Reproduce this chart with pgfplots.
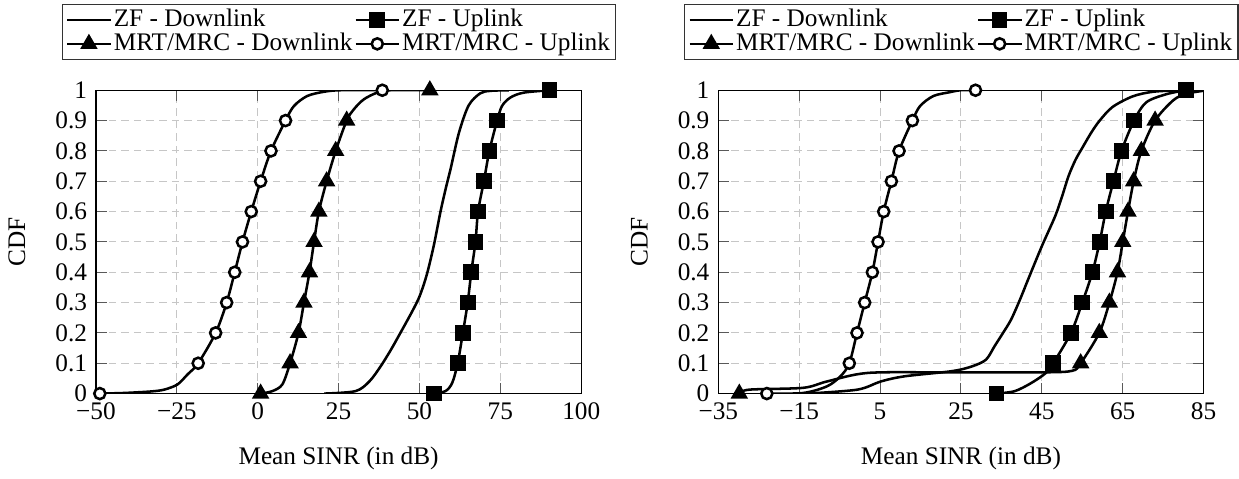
\documentclass[border=0pt]{standalone}
\usepackage{pgfplots}
\pgfplotsset{compat=1.18}
\usepackage{fontspec}
\setmainfont{Liberation Serif}
\begin{document}
\begin{tikzpicture}
\pgfplotsset{
  cdfax/.style={
    scale only axis, width=192pt, height=120pt,
    ymin=0, ymax=1, ytick={0,0.1,...,1.0},
    yticklabels={0,0.1,0.2,0.3,0.4,0.5,0.6,0.7,0.8,0.9,1},
    grid=major,
    major grid style={gray!45, dash pattern=on 3pt off 2pt, line width=0.4pt},
    tick style={gray!70!black, line width=0.4pt},
    axis line style={black, line width=0.5pt},
    tick label style={font=\fontsize{10}{12}\selectfont},
    label style={font=\fontsize{10}{12}\selectfont},
    xlabel={Mean SINR (in dB)}, ylabel={CDF},
    xlabel shift=4pt, ylabel shift=5pt,
    /pgf/number format/assume math mode=true,
    legend columns=2,
    legend cell align=left,
    legend style={at={(rel axis cs:-0.0706,1.285)}, anchor=north west,
      font=\fontsize{10}{11}\selectfont, draw=black!80, line width=0.5pt,
      inner xsep=1.5pt, inner ysep=1.5pt, row sep=0pt,
      nodes={inner ysep=0.5pt, inner xsep=0.8pt, text height=6.8pt, text depth=1.6pt},
      /tikz/every even column/.append style={column sep=0pt}},
    legend image code/.code={\draw[mark indices={2}] plot coordinates {(0cm,0cm) (0.3cm,0cm) (0.6cm,0cm)};},
    every axis plot/.append style={line width=1pt, black, smooth, tension=0.5},
  },
  sq/.style={mark=square*, mark size=2.6pt, mark options={solid, fill=black}},
  tr/.style={mark=triangle*, mark size=3pt, mark options={solid, fill=black}},
  ci/.style={mark=*, mark size=2.2pt, mark options={solid, fill=white, line width=1pt}},
}
\begin{axis}[cdfax, xmin=-50, xmax=100, xtick={-50,-25,0,25,50,75,100},
  xticklabels={−50,−25,0,25,50,75,100}]
\addplot[mark=none] coordinates {(20.5,0) (30.2,0.008) (34.5,0.04) (38.0,0.09) (41.2,0.145) (44.1,0.2) (47.7,0.27) (50.0,0.32) (52.2,0.39) (54.4,0.487) (56.5,0.6) (58.2,0.68) (59.6,0.74) (62.2,0.86) (65.2,0.95) (68.8,0.99) (72,0.998) (77.6,1)};
\addlegendentry{ZF - Downlink}
\addplot[sq, mark indices={1,4,5,6,7,8,9,10,11,12,16}] coordinates {(54.4,0) (58.0,0.008) (60.1,0.035) (61.8,0.1) (63.4,0.2) (64.9,0.3) (66.0,0.4) (67.3,0.5) (68.1,0.6) (69.9,0.7) (71.6,0.8) (74.0,0.9) (75.5,0.948) (78.1,0.976) (82.2,0.992) (90.2,1)};
\addlegendentry{ZF - Uplink}
\addplot[tr, mark indices={1,4,5,6,7,8,9,10,11,12,17}] coordinates {(0.9,0) (4.5,0.008) (7.6,0.030) (10.0,0.1) (12.6,0.2) (14.3,0.3) (16.0,0.4) (17.4,0.5) (18.9,0.6) (21.3,0.7) (24.1,0.8) (27.5,0.9) (29.7,0.937) (32.8,0.970) (36.9,0.992) (41.0,1.0) (53.2,1.0)};
\addlegendentry{MRT/MRC - Downlink}
\addplot[ci, mark indices={1,7,8,9,10,11,12,13,14,15,20}] coordinates {(-48.8,0) (-41.3,0.002) (-33,0.007) (-28.9,0.013) (-24.8,0.030) (-21.7,0.063) (-18.4,0.1) (-13.0,0.2) (-9.6,0.3) (-7.1,0.4) (-4.7,0.5) (-2.0,0.6) (0.9,0.7) (4.1,0.8) (8.6,0.9) (11.2,0.948) (15.3,0.981) (20.5,0.995) (25.6,1.0) (38.5,1.0)};
\addlegendentry{MRT/MRC - Uplink}
\end{axis}
\begin{axis}[cdfax, at={(246.2pt,0pt)}, xmin=-35, xmax=85, xtick={-35,-15,5,25,45,65,85},
  xticklabels={−35,−15,5,25,45,65,85}]
\addplot[mark=none] coordinates {(-13,0) (-0.6,0.013) (5.2,0.04) (11.1,0.057) (22.8,0.074) (27.8,0.09) (31.2,0.112) (33.3,0.156) (35.4,0.2) (37.4,0.244) (39.6,0.31) (41.6,0.376) (45.0,0.486) (48.3,0.585) (50.0,0.65) (51.6,0.717) (53.3,0.77) (55.0,0.81) (57.2,0.86) (59.3,0.9) (62.5,0.945) (67.5,0.98) (72.5,0.995) (79,1)};
\addlegendentry{ZF - Downlink}
\addplot[sq, mark indices={1,5,6,7,8,9,10,11,12,13,16}] coordinates {(33.8,0) (38.3,0.008) (42.4,0.035) (46.0,0.068) (47.8,0.1) (52.2,0.2) (55.0,0.3) (57.5,0.4) (59.3,0.5) (60.8,0.6) (62.7,0.7) (64.7,0.8) (67.8,0.9) (70.8,0.96) (75.8,0.987) (80.6,1)};
\addlegendentry{ZF - Uplink}
\addplot[tr, mark indices={1,9,10,11,12,13,14,15,16,17}] coordinates {(-29.8,0) (-27.3,0.013) (-14,0.019) (-8.1,0.04) (1.9,0.068) (20,0.07) (45,0.07) (52.5,0.075) (54.6,0.1) (59.2,0.2) (61.7,0.3) (63.7,0.4) (65.0,0.5) (66.3,0.6) (67.7,0.7) (69.6,0.8) (73.0,0.9) (77.5,0.967) (80.9,0.989) (86,1)};
\addlegendentry{MRT/MRC - Downlink}
\addplot[ci, mark indices={1,5,6,7,8,9,10,11,12,13,18}] coordinates {(-23.0,0) (-14,0.002) (-8.1,0.024) (-4.8,0.057) (-2.6,0.1) (-0.7,0.2) (1.2,0.3) (3.1,0.4) (4.5,0.5) (5.9,0.6) (7.8,0.7) (9.7,0.8) (13.0,0.9) (14.9,0.948) (18.2,0.981) (22.4,0.994) (24.9,1) (28.6,1)};
\addlegendentry{MRT/MRC - Uplink}
\end{axis}
\path (-37.5pt,-30.8pt) rectangle (452.2pt,155.7pt);
\end{tikzpicture}
\end{document}
